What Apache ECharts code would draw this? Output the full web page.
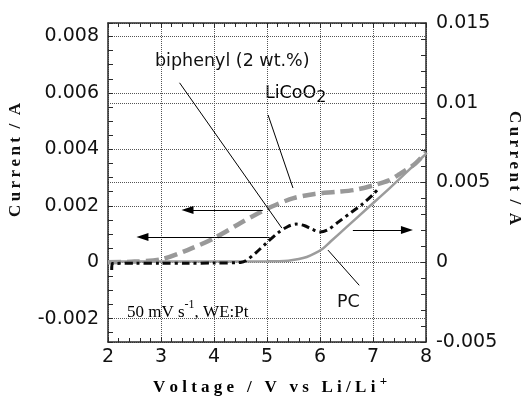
<!DOCTYPE html>
<html>
<head>
<meta charset="utf-8">
<script src="https://cdn.jsdelivr.net/npm/echarts@6/dist/echarts.min.js"></script>
<style>
  html, body { margin: 0; padding: 0; background: #fff; }
  #chart { width: 525px; height: 398px; }
</style>
</head>
<body>
<div id="chart"></div>
<script>
// Linear sweep voltammograms (50 mV/s, Pt working electrode)

// LiCoO2 cathode (left axis, A)
const licoVoltage = [2.0, 2.5, 3.0, 3.5, 4.0, 4.5, 4.8, 5.15, 5.5, 5.9, 6.3, 6.65, 7.0, 7.3, 7.5, 7.8, 8.0];
const licoCurrent = [0, 0.00002, 0.0001, 0.00043, 0.00085, 0.00139, 0.0017, 0.00202, 0.00227, 0.00242, 0.00249, 0.00256, 0.00272, 0.0029, 0.00312, 0.0035, 0.0039];

// PC + biphenyl 2 wt.% (left axis, A)
const biphVoltage = [2.07, 2.08, 2.5, 3.0, 3.5, 4.0, 4.5, 4.6, 4.8, 5.0, 5.2, 5.4, 5.55, 5.7, 5.85, 6.0, 6.15, 6.35, 6.6, 6.8, 7.0, 7.1];
const biphCurrent = [-0.00028, -0.00005, -0.00004, -0.00004, -0.00004, -0.00003, -0.00001, 0.00005, 0.00035, 0.0007, 0.00103, 0.00127, 0.00135, 0.0013, 0.00117, 0.00107, 0.00115, 0.00143, 0.00178, 0.00206, 0.0024, 0.0026];

// Neat PC (right axis, A)
const pcVoltage = [2.0, 3.0, 4.0, 5.0, 5.4, 5.6, 5.75, 5.9, 6.05, 6.2, 6.5, 6.9, 7.3, 7.65, 8.0];
const pcCurrent = [0.00005, 0.00005, 0.00005, 0.00006, 0.0001, 0.0002, 0.00033, 0.00055, 0.00085, 0.0013, 0.0022, 0.0034, 0.0046, 0.0057, 0.0068];

// Axis ranges
const xRange = [2, 8];
const leftRange = [-0.00283, 0.00848];
const leftStep = 0.002;
const rightRange = [-0.005, 0.015];
const rightStep = 0.005;

// Leader lines from the labels to the curves, in (V, A-left) coordinates
const leaderLines = [
  [[3.35, 0.00636], [5.28, 0.00121]],   // biphenyl
  [[5.02, 0.00522], [5.49, 0.00263]],   // LiCoO2
  [[6.15, 0.00043], [6.74, -0.00082]]   // PC
];
// Arrows pointing at the axis each curve belongs to
const axisArrows = [
  [[4.92, 0.00185], [3.50, 0.00185]],
  [[5.05, 0.00089], [2.65, 0.00089]],
  [[6.62, 0.00114], [7.64, 0.00114]]
];

const zip = (xs, ys) => xs.map((x, i) => [x, ys[i]]);

const SANS = '"DejaVu Sans", "Liberation Sans", sans-serif';
const SERIF = '"Liberation Serif", "DejaVu Serif", serif';
const FRAME = '#2a2a2a';
const GRID = '#555';

const tickLabel = { fontFamily: SANS, fontSize: 19, color: '#111' };

function xAxisBase(pos, withLabels) {
  return {
    type: 'value', position: pos, min: xRange[0], max: xRange[1], interval: 1,
    axisLine: { show: true, onZero: false, lineStyle: { color: FRAME, width: 1.5 } },
    axisTick: { show: true, inside: true, length: 5, lineStyle: { color: FRAME, width: 1 } },
    minorTick: { show: true, splitNumber: 5, length: 4, lineStyle: { color: FRAME, width: 1 } },
    splitLine: { show: withLabels, lineStyle: { color: GRID, type: [1, 1], width: 1 } },
    axisLabel: withLabels ? Object.assign({ show: true, margin: 6 }, tickLabel) : { show: false }
  };
}

const t = '\u2009';
const leftTitle = ['C','u','r','r','e','n','t'].join(t) + '  /  A';
const xTitle = 'V o l t a g e   /   V   v s   L i / L i ';

const option = {
  animation: false,
  backgroundColor: '#fff',
  grid: { left: 108, top: 23, width: 318, height: 319, containLabel: false },
  xAxis: [xAxisBase('bottom', true), xAxisBase('top', false)],
  yAxis: [
    {
      type: 'value', position: 'left', min: leftRange[0], max: leftRange[1],
      splitNumber: 5, minInterval: leftStep, maxInterval: leftStep,
      axisLine: { show: true, onZero: false, lineStyle: { color: FRAME, width: 1.5 } },
      axisTick: { show: true, inside: true, length: 5, lineStyle: { color: FRAME, width: 1 } },
      minorTick: { show: true, splitNumber: 4, length: 5, lineStyle: { color: FRAME, width: 1 } },
      splitLine: { show: true, lineStyle: { color: GRID, type: [1, 1], width: 1 } },
      axisLabel: Object.assign({ margin: 9, showMinLabel: false, showMaxLabel: false }, tickLabel)
    },
    {
      type: 'value', position: 'right', min: rightRange[0], max: rightRange[1], interval: rightStep,
      axisLine: { show: true, onZero: false, lineStyle: { color: FRAME, width: 1.5 } },
      axisTick: { show: true, inside: true, length: 5, lineStyle: { color: FRAME, width: 1 } },
      minorTick: { show: true, splitNumber: 5, length: 5, lineStyle: { color: FRAME, width: 1 } },
      splitLine: { show: true, lineStyle: { color: GRID, type: [1, 1], width: 1 } },
      axisLabel: Object.assign({ margin: 10 }, tickLabel)
    }
  ],
  series: [
    {
      name: 'PC', type: 'line', xAxisIndex: 0, yAxisIndex: 1,
      data: zip(pcVoltage, pcCurrent), smooth: 0.3, showSymbol: false, silent: true, z: 2,
      lineStyle: { color: '#9c9c9c', width: 2.5, type: 'solid' }
    },
    {
      name: 'LiCoO2', type: 'line', xAxisIndex: 0, yAxisIndex: 0,
      data: zip(licoVoltage, licoCurrent), smooth: 0.3, showSymbol: false, silent: true, z: 3,
      lineStyle: { color: '#999', width: 4.5, type: [13, 6] },
      markLine: {
        silent: true, symbol: ['none', 'triangle'], symbolSize: [8, 12],
        label: { show: false },
        lineStyle: { color: '#000', width: 1, type: 'solid' },
        data: axisArrows.map(a => [{ coord: a[0] }, { coord: a[1] }])
      }
    },
    {
      name: 'biphenyl', type: 'line', xAxisIndex: 0, yAxisIndex: 0,
      data: zip(biphVoltage, biphCurrent), smooth: 0.3, showSymbol: false, silent: true, z: 4,
      lineStyle: { color: '#0a0a0a', width: 3, type: [8, 4, 3, 4] },
      markLine: {
        silent: true, symbol: 'none',
        label: { show: false },
        lineStyle: { color: '#000', width: 1, type: 'solid' },
        data: leaderLines.map(a => [{ coord: a[0] }, { coord: a[1] }])
      }
    }
  ],
  graphic: [
    {
      type: 'text', x: 155, y: 61, silent: true,
      style: { text: 'biphenyl (2 wt.%)', font: '17.5px ' + SANS, fill: '#111', align: 'left', verticalAlign: 'middle' }
    },
    {
      type: 'text', x: 265, y: 95, silent: true,
      style: {
        text: '{m|LiCoO}{s|2}', align: 'left', verticalAlign: 'middle',
        rich: {
          m: { fontFamily: SANS, fontSize: 17.5, color: '#111', lineHeight: 20, verticalAlign: 'top' },
          s: { fontFamily: SANS, fontSize: 16, color: '#111', lineHeight: 22, verticalAlign: 'bottom' }
        }
      }
    },
    {
      type: 'text', x: 337, y: 302, silent: true,
      style: { text: 'PC', font: '17.5px ' + SANS, fill: '#111', align: 'left', verticalAlign: 'middle' }
    },
    {
      type: 'text', x: 127, y: 310, silent: true,
      style: {
        text: '{m|50 mV s}{p|-1}{m|, WE:Pt}', align: 'left', verticalAlign: 'middle',
        rich: {
          m: { fontFamily: SERIF, fontSize: 17, color: '#111', lineHeight: 22, verticalAlign: 'bottom' },
          p: { fontFamily: SERIF, fontSize: 12, color: '#111', lineHeight: 14, verticalAlign: 'top' }
        }
      }
    },
    {
      type: 'text', x: 16, y: 160, rotation: Math.PI / 2, silent: true,
      style: { text: leftTitle, font: 'bold 17px ' + SERIF, fill: '#111', align: 'center', verticalAlign: 'middle' }
    },
    {
      type: 'text', x: 514, y: 168, rotation: -Math.PI / 2, silent: true,
      style: { text: leftTitle, font: 'bold 17px ' + SERIF, fill: '#111', align: 'center', verticalAlign: 'middle' }
    },
    {
      type: 'text', x: 270, y: 386, silent: true,
      style: {
        text: '{m|' + xTitle + '}{p|+}', align: 'center', verticalAlign: 'middle',
        rich: {
          m: { fontFamily: SERIF, fontWeight: 'bold', fontSize: 17, color: '#111', lineHeight: 21, verticalAlign: 'bottom' },
          p: { fontFamily: SERIF, fontWeight: 'bold', fontSize: 13, color: '#111', lineHeight: 14, verticalAlign: 'top' }
        }
      }
    }
  ]
};

const chart = echarts.init(document.getElementById('chart'), null, { renderer: 'canvas' });
chart.setOption(option);
</script>
</body>
</html>
